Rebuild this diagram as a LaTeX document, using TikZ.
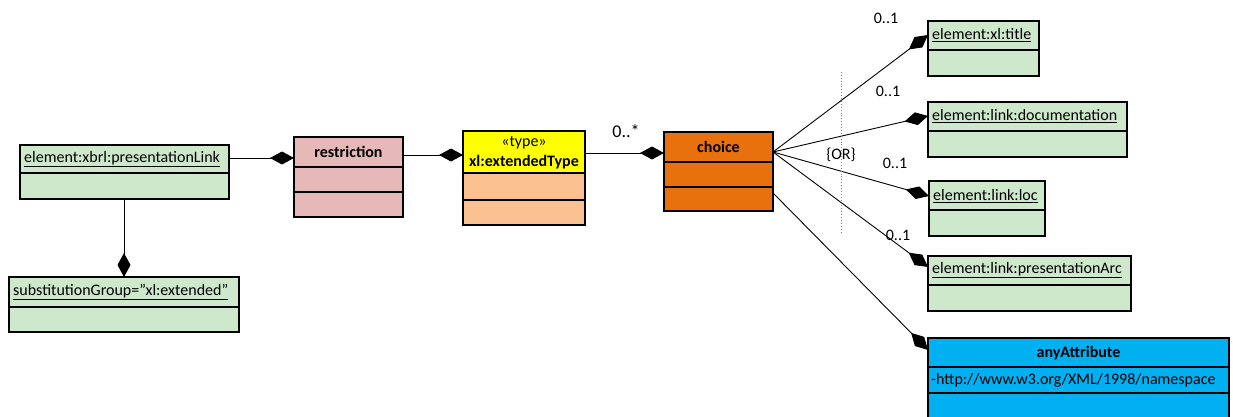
\documentclass[tikz,border=0pt]{standalone}
\usepackage{fontspec}
\setmainfont{Carlito}
\usetikzlibrary{arrows.meta}
\definecolor{ugreen}{RGB}{206,232,204}
\definecolor{upink}{RGB}{230,185,184}
\definecolor{upeach}{RGB}{250,192,144}
\definecolor{uyellow}{RGB}{255,255,0}
\definecolor{uorange}{RGB}{232,113,14}
\definecolor{ublue}{RGB}{0,176,240}
\newcommand{\fs}{\fontsize{16}{19}\selectfont}
\tikzset{
  umlbox/.style={draw=black, line width=1.2pt, anchor=north west, inner sep=0pt, outer sep=0pt},
  divl/.style={draw=black, line width=1.2pt},
  comp/.style={draw=black, line width=0.9pt, -{Diamond[length=24pt,width=13pt]}},
  ttl/.style={font=\fs, inner sep=0pt, anchor=west},
  ctl/.style={font=\fs, inner sep=0pt},
  mult/.style={font=\fs, inner sep=0pt},
}
\begin{document}
\begin{tikzpicture}[x=1pt,y=-1pt]
\useasboundingbox (0,0) rectangle (1233,417);
\clip (0,0) rectangle (1233,417);
% presentationLink
\node[umlbox, fill=ugreen, minimum width=209pt, minimum height=54pt] (pl) at (20,145) {};
\draw[divl] (pl.west |- 0,173) -- (pl.east |- 0,173);
\node[ttl] (plh) at (24,159) {\underline{element:xbrl:presentationLink}};
% substitutionGroup
\node[umlbox, fill=ugreen, minimum width=230pt, minimum height=55pt] (sg) at (9,277) {};
\draw[divl] (sg.west |- 0,307) -- (sg.east |- 0,307);
\node[ttl] (sgh) at (13,292) {\underline{substitutionGroup="xl:extended"}};
% restriction
\node[umlbox, fill=upink, minimum width=109pt, minimum height=80pt] (rs) at (294,137) {};
\draw[divl] (rs.west |- 0,167) -- (rs.east |- 0,167);
\draw[divl] (rs.west |- 0,192) -- (rs.east |- 0,192);
\node[ctl] (rsh) at (348.5,152) {\textbf{restriction}};
% extendedType
\node[umlbox, fill=upeach, minimum width=122pt, minimum height=94pt] (xt) at (463,131) {};
\draw[divl, fill=uyellow] (463,131) rectangle (585,173);
\draw[divl] (xt.west |- 0,200) -- (xt.east |- 0,200);
\node[ctl] (xts) at (524,143) {«type»};
\node[ctl] (xth) at (524,162) {\textbf{xl:extendedType}};
% choice
\node[umlbox, fill=uorange, minimum width=109pt, minimum height=79pt] (ch) at (664,132) {};
\draw[divl] (ch.west |- 0,162) -- (ch.east |- 0,162);
\draw[divl] (ch.west |- 0,187) -- (ch.east |- 0,187);
\node[ctl] (chh) at (718.5,147) {\textbf{choice}};
% title
\node[umlbox, fill=ugreen, minimum width=111pt, minimum height=55pt] (ti) at (928,21) {};
\draw[divl] (ti.west |- 0,50) -- (ti.east |- 0,50);
\node[ttl] (tih) at (932,35) {\underline{element:xl:title}};
% documentation
\node[umlbox, fill=ugreen, minimum width=199pt, minimum height=55pt] (doc) at (928,102) {};
\draw[divl] (doc.west |- 0,131) -- (doc.east |- 0,131);
\node[ttl] (doch) at (932,116) {\underline{element:link:documentation}};
% loc
\node[umlbox, fill=ugreen, minimum width=116pt, minimum height=55pt] (loc) at (929,181) {};
\draw[divl] (loc.west |- 0,210) -- (loc.east |- 0,210);
\node[ttl] (loch) at (933,196) {\underline{element:link:loc}};
% presentationArc
\node[umlbox, fill=ugreen, minimum width=203pt, minimum height=55pt] (arc) at (928,256) {};
\draw[divl] (arc.west |- 0,285) -- (arc.east |- 0,285);
\node[ttl] (arch) at (932,270) {\underline{element:link:presentationArc}};
% anyAttribute
\node[umlbox, fill=ublue, minimum width=301pt, minimum height=90pt] (any) at (928,338) {};
\draw[divl] (any.west |- 0,367) -- (any.east |- 0,367);
\draw[divl] (any.west |- 0,393) -- (any.east |- 0,393);
\node[ctl] (anyh) at (1078.5,353) {\textbf{anyAttribute}};
\node[ttl] (anya) at (931,380) {-http://www.w3.org/XML/1998/namespace};
% connectors
\draw[comp] (pl.east |- 0,158) -- (rs.west |- 0,158);
\draw[comp] (pl.south -| 124,0) -- (sg.north -| 124,0);
\draw[comp] (rs.east |- 0,155) -- (xt.west |- 0,155);
\draw[comp] (xt.east |- 0,153) -- (ch.west |- 0,153);
\draw[comp] (ch.east |- 0,152) -- (ti.west |- 0,35);
\draw[comp] (ch.east |- 0,152) -- (doc.west |- 0,116);
\draw[comp] (ch.east |- 0,152) -- (loc.west |- 0,196);
\draw[comp] (ch.east |- 0,152) -- (arc.west |- 0,267);
\draw[comp] (ch.east |- 0,193) -- (any.west |- 0,350);
% OR constraint
\coordinate (ortop) at (841,72);
\coordinate (orbot) at (841,232);
\draw[gray, dotted, line width=0.9pt] (ortop) -- (orbot);
\node[mult] (or) at (841,155) {\{OR\}};
% multiplicities
\node[font=\fontsize{18}{21}\selectfont, inner sep=0pt] (m0) at (626,131) {0..*};
\node[mult] (m1) at (886,18) {0..1};
\node[mult] (m2) at (888,91) {0..1};
\node[mult] (m3) at (895,163) {0..1};
\node[mult] (m4) at (898,235) {0..1};
\end{tikzpicture}
\end{document}
